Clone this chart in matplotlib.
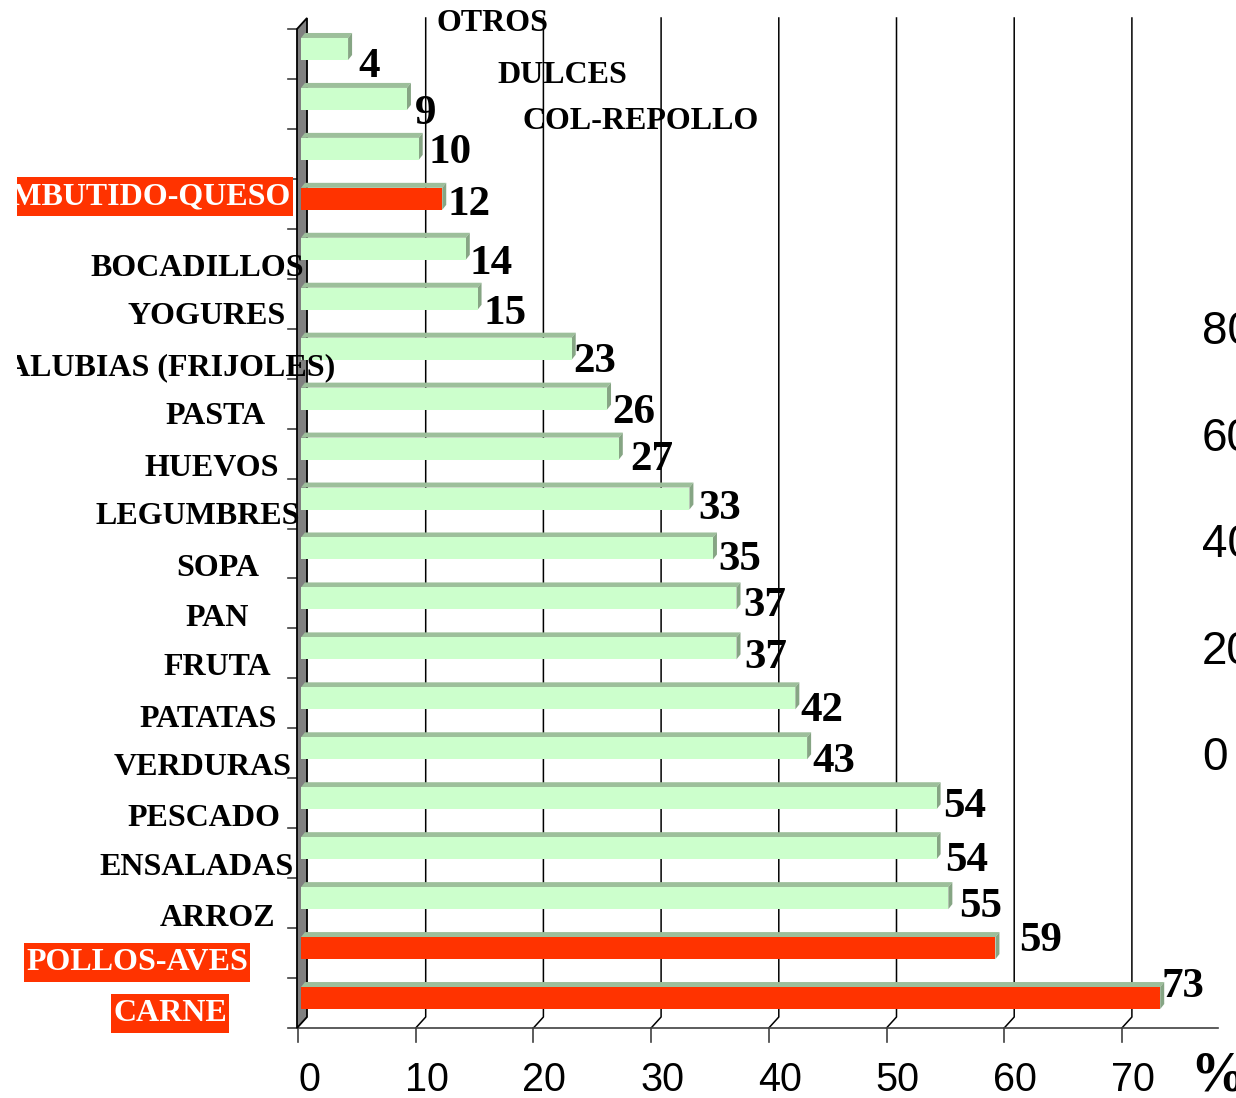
import matplotlib
matplotlib.use("Agg")
import matplotlib.pyplot as plt
from matplotlib.collections import PolyCollection
from matplotlib.transforms import Bbox, TransformedBbox

# ---- data (bottom to top) ----
categories = ["CARNE", "POLLOS-AVES", "ARROZ", "ENSALADAS", "PESCADO", "VERDURAS",
              "PATATAS", "FRUTA", "PAN", "SOPA", "LEGUMBRES", "HUEVOS", "PASTA",
              "ALUBIAS (FRIJOLES)", "YOGURES", "BOCADILLOS", "EMBUTIDO-QUESO",
              "COL-REPOLLO", "DULCES", "OTROS"]
values = [73, 59, 55, 54, 54, 43, 42, 37, 37, 35, 33, 27, 26, 23, 15, 14, 12, 10, 9, 4]
highlight = ["CARNE", "POLLOS-AVES", "EMBUTIDO-QUESO"]
x_ticks = [0, 10, 20, 30, 40, 50, 60, 70]
right_ticks = [0, 20, 40, 60, 80]

# ---- layout (pixels, dpi 100) ----
W, H, DPI = 1236, 1098, 100
X0, Y0 = 298, 1028          # front corner of floor / wall
SX, SY = 11.77, 49.95       # px per unit of %, px per category
X_RIGHT = 1218
WALL_DX, WALL_DY = 10, 11   # depth of the 3d box
BAR_SHIFT_X, BAR_SHIFT_Y = 3, 0.1
BAR_H, BAR_DX, BAR_DY = 22, 4, 5

# category label placement: x in px, alignment, vertical offset in px (down)
label_x = [170, 137, 218, 197, 204, 203, 208, 217, 217, 218, 198, 212, 215,
           335, 207, 197, 291, 522, 497, 436]
label_ha = ["center"] * 13 + ["right", "center", "center", "right", "left", "left", "left"]
label_dy = [15.5, 14.5, 17, 16, 17, 16, 18, 16, 17, 16.5, 15, 17, 15,
            16, 15, 17, -2, -30, -27, -29]
# value label offsets from the bar end (px)
val_dx = [-3, 20, 7, 5, 3, 1, 1, 4, 3, 1, 5, 7, 1, -2, 2, 0, 1, 6, 4, 6]
val_dy = [-16, -12, 4, 8, 4, 9, 8, 5, 3, 7, 6, 7, 10, 9, 11, 11, 2, 0, 11, 13]

RED = "#ff3300"
GREEN = "#ccffcc"
TOP = "#9dbf9b"
SIDE = "#86a584"
SERIF = ["Liberation Serif", "DejaVu Serif"]
plt.rcParams["font.family"] = ["Liberation Sans", "DejaVu Sans"]

fig = plt.figure(figsize=(W / DPI, H / DPI), dpi=DPI)
ax = fig.add_axes([X0 / W, (H - Y0) / H, (X_RIGHT - X0) / W, SY * 20 / H])
ax.set_xlim(0, (X_RIGHT - X0) / SX)
ax.set_ylim(-0.5, 19.5)
ax.axis("off")

wdx, wdy = WALL_DX / SX, WALL_DY / SY
x_wall = -1 / SX

# back gridlines with slanted floor segments
for v in x_ticks[1:]:
    ax.plot([v, v + wdx, v + wdx], [-0.5, -0.5 + wdy, 19.5 + wdy],
            color="black", lw=1.1, zorder=1, clip_on=False)
# floor line and ticks
ax.plot([x_wall, (X_RIGHT - X0) / SX], [-0.5, -0.5], color="#404040", lw=1.2,
        zorder=1, clip_on=False)
for v in x_ticks:
    ax.plot([v, v], [-0.5, -0.5 - 14 / SY], color="#404040", lw=1.2, clip_on=False)
for k in range(21):
    ax.plot([x_wall - 9 / SX, x_wall], [k - 0.5, k - 0.5], color="#404040", lw=1.2,
            clip_on=False)

# left wall
wall = plt.Polygon([(x_wall, -0.5), (x_wall, 19.5), (x_wall + wdx, 19.5 + wdy),
                    (x_wall + wdx, -0.5 + wdy)], closed=True, fc="#808080",
                   ec="black", lw=1.3, zorder=2, clip_on=False)
ax.add_patch(wall)

# bars
ys = [i + BAR_SHIFT_Y for i in range(len(values))]
front = [RED if c in highlight else GREEN for c in categories]
left = BAR_SHIFT_X / SX
bh = BAR_H / SY
ax.barh(ys, values, height=bh, left=left, color=front, lw=0, zorder=4, clip_on=False)
bdx, bdy = BAR_DX / SX, BAR_DY / SY
tops, sides = [], []
for y, v in zip(ys, values):
    y0, y1 = y - bh / 2, y + bh / 2
    x1 = left + v
    tops.append([(left, y1), (x1, y1), (x1 + bdx, y1 + bdy), (left + bdx, y1 + bdy)])
    sides.append([(x1, y0), (x1, y1), (x1 + bdx, y1 + bdy), (x1 + bdx, y0 + bdy)])
ax.add_collection(PolyCollection(tops, facecolors=TOP, edgecolors="none", zorder=3,
                                 clip_on=False))
ax.add_collection(PolyCollection(sides, facecolors=SIDE, edgecolors="none", zorder=3,
                                 clip_on=False))

# value labels
vfs = 31
vcap = 0.676 * vfs * DPI / 72
for i, v in enumerate(values):
    yb = ys[i] - (val_dy[i] + vcap / 2) / SY
    ax.text(v + left + bdx + val_dx[i] / SX, yb, str(v), ha="left", va="baseline",
            fontsize=vfs, fontweight="bold", family=SERIF, zorder=5, clip_on=False)

# category labels
cfs = 23
ccap = 0.662 * cfs * DPI / 72
clip = TransformedBbox(Bbox.from_extents(17 / W, 0, 1, 1), fig.transFigure)
for i, c in enumerate(categories):
    x = (label_x[i] - X0) / SX
    yc = ys[i] - label_dy[i] / SY
    if c in highlight:
        t = ax.text(x, yc, c, ha=label_ha[i], va="center", fontsize=cfs,
                    fontweight="bold", family=SERIF, color="white", zorder=5,
                    bbox=dict(boxstyle="square,pad=0.06", fc=RED, ec="none",
                              mutation_aspect=2.6))
    else:
        t = ax.text(x, yc - (ccap / 2) / SY, c, ha=label_ha[i], va="baseline",
                    fontsize=cfs, fontweight="bold", family=SERIF, color="black",
                    zorder=5)
    t.set_clip_path(None)
    t.set_clip_box(clip)
    t.set_clip_on(True)

# x tick labels
tfs = 28.5
tcap = 0.716 * tfs * DPI / 72
for v in x_ticks:
    ax.text(v + 11 / SX, -0.5 - (49 + tcap / 2) / SY, str(v), ha="center",
            va="baseline", fontsize=tfs, clip_on=False)
pfs = 40
ax.text((1190 - X0) / SX, -0.5 - (44 + 0.68 * pfs * DPI / 72 / 2) / SY, "%",
        ha="left", va="baseline", fontsize=pfs, fontweight="bold", family=SERIF,
        clip_on=False)

# leftover secondary axis labels on the right
ax2 = fig.add_axes([1180 / W, (H - 753) / H, 10 / W, (753 - 327.5) / H])
ax2.set_ylim(0, 80)
ax2.set_yticks(right_ticks)
ax2.yaxis.tick_right()
ax2.tick_params(axis="y", length=0, pad=(1202 - 1190) * 72 / DPI, labelsize=33)
ax2.set_xticks([])
for s in ax2.spines.values():
    s.set_visible(False)
ax2.patch.set_visible(False)

fig.savefig("out.png", dpi=DPI, facecolor="white")
